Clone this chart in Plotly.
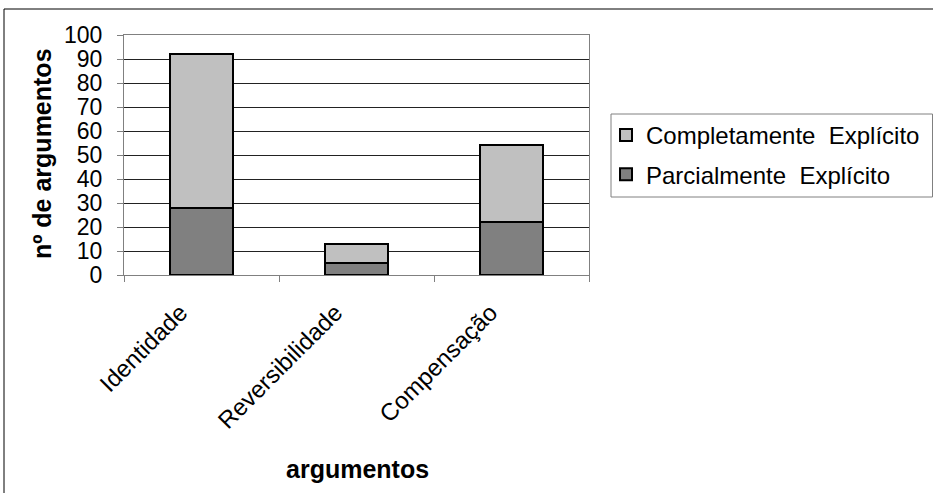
import plotly.graph_objects as go

# Categories and stacked counts
categorias = ["Identidade", "Reversibilidade", "Compensação"]
parcialmente = [28, 5, 22]
completamente = [64, 8, 32]
y_ticks = list(range(0, 101, 10))

FONT = "Liberation Sans, Arial, sans-serif"
W, H = 933, 493
L, R, T, B = 124, 589, 35, 275  # plot area in pixels


def px_x(px):
    return (px - L) / (R - L)


def px_y(py):
    return (B - py) / (B - T)


fig = go.Figure()
fig.add_trace(go.Bar(
    x=categorias, y=parcialmente, name="Parcialmente  Explícito",
    legendgroup="parcial", legendrank=2,
    marker=dict(color="#808080", line=dict(color="#000000", width=2)),
    width=0.41,
))
fig.add_trace(go.Bar(
    x=categorias, y=completamente, name="Completamente  Explícito",
    legendgroup="completo", legendrank=1,
    marker=dict(color="#c0c0c0", line=dict(color="#000000", width=2)),
    width=0.41,
))

fig.update_layout(
    width=W, height=H,
    margin=dict(l=L, r=W - R, t=T, b=H - B, autoexpand=False),
    barmode="stack",
    paper_bgcolor="white", plot_bgcolor="white",
    font=dict(family=FONT, size=22, color="#000000"),
    showlegend=True,
    legend=dict(
        x=px_x(606), y=px_y(113), xanchor="left", yanchor="top",
        traceorder="grouped", tracegroupgap=5,
        borderwidth=0, bgcolor="rgba(0,0,0,0)",
        font=dict(family=FONT, size=24, color="#000000"),
        itemwidth=30,
    ),
    xaxis=dict(
        type="category", tickson="boundaries", ticks="outside", ticklen=6,
        tickcolor="#808080", tickwidth=1,
        showline=True, linecolor="#808080", linewidth=1, mirror=True,
        tickangle=-45, tickfont=dict(family=FONT, size=24),
        ticklabelshift=-21, ticklabelstandoff=13,
        showgrid=False,
    ),
    yaxis=dict(
        range=[0, 100], tickvals=y_ticks, ticks="outside", ticklen=6,
        tickcolor="#808080", tickwidth=1,
        showline=True, linecolor="#808080", linewidth=1, mirror=True,
        showgrid=True, gridcolor="#222222", gridwidth=1,
        tickfont=dict(family=FONT, size=23), ticklabelstandoff=10,
        zeroline=False,
    ),
    annotations=[
        dict(text="<b>nº de argumentos</b>", xref="paper", yref="paper",
             x=px_x(42), y=px_y(154), textangle=-90, showarrow=False,
             xanchor="center", yanchor="middle",
             font=dict(family=FONT, size=25, color="#000000")),
        dict(text="<b>argumentos</b>", xref="paper", yref="paper",
             x=px_x(357), y=px_y(469), showarrow=False,
             xanchor="center", yanchor="middle",
             font=dict(family=FONT, size=25, color="#000000")),
    ],
    shapes=[
        # outer chart frame
        dict(type="rect", xref="paper", yref="paper",
             x0=px_x(4), y0=px_y(560), x1=px_x(1000), y1=px_y(9),
             line=dict(color="#000000", width=1), layer="below"),
        # legend frame
        dict(type="rect", xref="paper", yref="paper",
             x0=px_x(611), y0=px_y(197), x1=px_x(932.5), y1=px_y(114),
             line=dict(color="#808080", width=1), layer="below"),
    ],
)

fig.write_html("out.html")
